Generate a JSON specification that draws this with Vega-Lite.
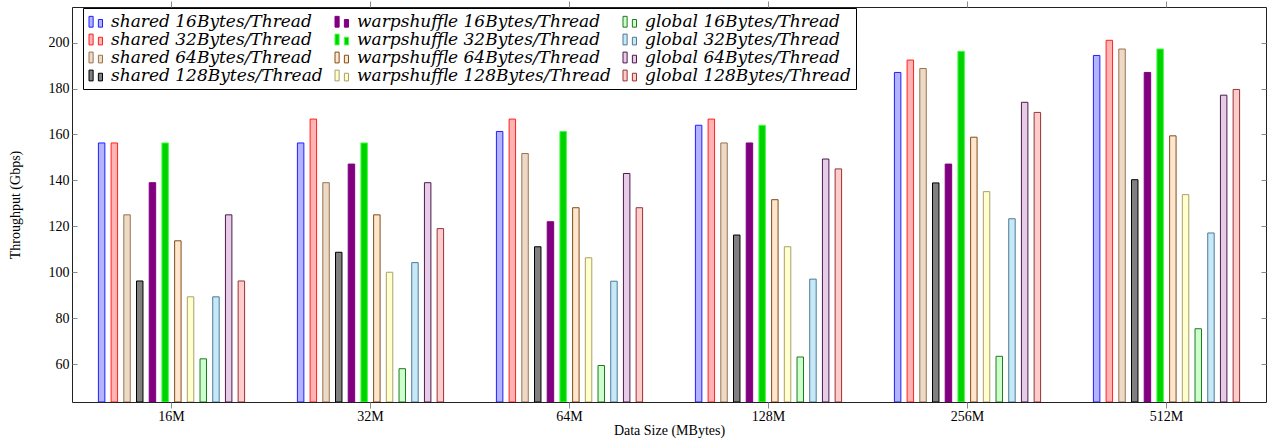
{
  "$schema": "https://vega.github.io/schema/vega-lite/v6.json",
  "width": 1194,
  "height": 395,
  "autosize": {"type": "none"},
  "padding": {"left": 72, "top": 7, "right": 3, "bottom": 41},
  "background": "white",
  "config": {
    "view": {"stroke": "#222222", "strokeWidth": 1},
    "font": "Liberation Serif",
    "axis": {
      "labelFont": "Liberation Serif",
      "titleFont": "Liberation Serif",
      "labelFontSize": 14,
      "titleFontSize": 14,
      "titleFontWeight": "normal",
      "labelColor": "#000000",
      "titleColor": "#000000",
      "domainColor": "#222222",
      "tickColor": "#8a8a8a",
      "grid": false
    }
  },
  "data": {
    "values": [
      {"size": "16M", "series": "shared 16Bytes/Thread", "value": 156.3},
      {"size": "16M", "series": "shared 32Bytes/Thread", "value": 156.3},
      {"size": "16M", "series": "shared 64Bytes/Thread", "value": 125},
      {"size": "16M", "series": "shared 128Bytes/Thread", "value": 96.2},
      {"size": "16M", "series": "warpshuffle 16Bytes/Thread", "value": 139},
      {"size": "16M", "series": "warpshuffle 32Bytes/Thread", "value": 156.3},
      {"size": "16M", "series": "warpshuffle 64Bytes/Thread", "value": 113.7},
      {"size": "16M", "series": "warpshuffle 128Bytes/Thread", "value": 89.3},
      {"size": "16M", "series": "global 16Bytes/Thread", "value": 62.3},
      {"size": "16M", "series": "global 32Bytes/Thread", "value": 89.3},
      {"size": "16M", "series": "global 64Bytes/Thread", "value": 125},
      {"size": "16M", "series": "global 128Bytes/Thread", "value": 96.2},
      {"size": "32M", "series": "shared 16Bytes/Thread", "value": 156.3},
      {"size": "32M", "series": "shared 32Bytes/Thread", "value": 166.7},
      {"size": "32M", "series": "shared 64Bytes/Thread", "value": 139},
      {"size": "32M", "series": "shared 128Bytes/Thread", "value": 108.7},
      {"size": "32M", "series": "warpshuffle 16Bytes/Thread", "value": 147.1},
      {"size": "32M", "series": "warpshuffle 32Bytes/Thread", "value": 156.3},
      {"size": "32M", "series": "warpshuffle 64Bytes/Thread", "value": 125},
      {"size": "32M", "series": "warpshuffle 128Bytes/Thread", "value": 100},
      {"size": "32M", "series": "global 16Bytes/Thread", "value": 58},
      {"size": "32M", "series": "global 32Bytes/Thread", "value": 104.2},
      {"size": "32M", "series": "global 64Bytes/Thread", "value": 139},
      {"size": "32M", "series": "global 128Bytes/Thread", "value": 119},
      {"size": "64M", "series": "shared 16Bytes/Thread", "value": 161.3},
      {"size": "64M", "series": "shared 32Bytes/Thread", "value": 166.7},
      {"size": "64M", "series": "shared 64Bytes/Thread", "value": 151.7},
      {"size": "64M", "series": "shared 128Bytes/Thread", "value": 111.1},
      {"size": "64M", "series": "warpshuffle 16Bytes/Thread", "value": 122},
      {"size": "64M", "series": "warpshuffle 32Bytes/Thread", "value": 161.3},
      {"size": "64M", "series": "warpshuffle 64Bytes/Thread", "value": 128.1},
      {"size": "64M", "series": "warpshuffle 128Bytes/Thread", "value": 106.3},
      {"size": "64M", "series": "global 16Bytes/Thread", "value": 59.4},
      {"size": "64M", "series": "global 32Bytes/Thread", "value": 96.1},
      {"size": "64M", "series": "global 64Bytes/Thread", "value": 143},
      {"size": "64M", "series": "global 128Bytes/Thread", "value": 128.1},
      {"size": "128M", "series": "shared 16Bytes/Thread", "value": 164},
      {"size": "128M", "series": "shared 32Bytes/Thread", "value": 166.7},
      {"size": "128M", "series": "shared 64Bytes/Thread", "value": 156.3},
      {"size": "128M", "series": "shared 128Bytes/Thread", "value": 116.2},
      {"size": "128M", "series": "warpshuffle 16Bytes/Thread", "value": 156.3},
      {"size": "128M", "series": "warpshuffle 32Bytes/Thread", "value": 164},
      {"size": "128M", "series": "warpshuffle 64Bytes/Thread", "value": 131.6},
      {"size": "128M", "series": "warpshuffle 128Bytes/Thread", "value": 111.1},
      {"size": "128M", "series": "global 16Bytes/Thread", "value": 63.1},
      {"size": "128M", "series": "global 32Bytes/Thread", "value": 97},
      {"size": "128M", "series": "global 64Bytes/Thread", "value": 149.3},
      {"size": "128M", "series": "global 128Bytes/Thread", "value": 145},
      {"size": "256M", "series": "shared 16Bytes/Thread", "value": 187},
      {"size": "256M", "series": "shared 32Bytes/Thread", "value": 192.4},
      {"size": "256M", "series": "shared 64Bytes/Thread", "value": 188.7},
      {"size": "256M", "series": "shared 128Bytes/Thread", "value": 138.9},
      {"size": "256M", "series": "warpshuffle 16Bytes/Thread", "value": 147.1},
      {"size": "256M", "series": "warpshuffle 32Bytes/Thread", "value": 196.2},
      {"size": "256M", "series": "warpshuffle 64Bytes/Thread", "value": 158.8},
      {"size": "256M", "series": "warpshuffle 128Bytes/Thread", "value": 135.1},
      {"size": "256M", "series": "global 16Bytes/Thread", "value": 63.4},
      {"size": "256M", "series": "global 32Bytes/Thread", "value": 123.3},
      {"size": "256M", "series": "global 64Bytes/Thread", "value": 174},
      {"size": "256M", "series": "global 128Bytes/Thread", "value": 169.6},
      {"size": "512M", "series": "shared 16Bytes/Thread", "value": 194.4},
      {"size": "512M", "series": "shared 32Bytes/Thread", "value": 201},
      {"size": "512M", "series": "shared 64Bytes/Thread", "value": 197.2},
      {"size": "512M", "series": "shared 128Bytes/Thread", "value": 140.3},
      {"size": "512M", "series": "warpshuffle 16Bytes/Thread", "value": 187},
      {"size": "512M", "series": "warpshuffle 32Bytes/Thread", "value": 197.2},
      {"size": "512M", "series": "warpshuffle 64Bytes/Thread", "value": 159.4},
      {"size": "512M", "series": "warpshuffle 128Bytes/Thread", "value": 133.8},
      {"size": "512M", "series": "global 16Bytes/Thread", "value": 75.4},
      {"size": "512M", "series": "global 32Bytes/Thread", "value": 117.1},
      {"size": "512M", "series": "global 64Bytes/Thread", "value": 177.1},
      {"size": "512M", "series": "global 128Bytes/Thread", "value": 179.6}
    ]
  },
  "layer": [
    {
      "mark": {"type": "bar", "strokeWidth": 1, "clip": true},
      "encoding": {
        "x": {
          "field": "size", "type": "nominal", "sort": null,
          "scale": {"domain": ["16M", "32M", "64M", "128M", "256M", "512M"], "paddingInner": 0.234, "paddingOuter": 0.117},
          "axis": {"title": "Data Size (MBytes)", "labelAngle": 0, "tickSize": 6, "labelPadding": 1, "titlePadding": 0, "domain": false}
        },
        "xOffset": {
          "field": "series", "type": "nominal",
          "scale": {
            "domain": ["shared 16Bytes/Thread", "shared 32Bytes/Thread", "shared 64Bytes/Thread", "shared 128Bytes/Thread", "warpshuffle 16Bytes/Thread", "warpshuffle 32Bytes/Thread", "warpshuffle 64Bytes/Thread", "warpshuffle 128Bytes/Thread", "global 16Bytes/Thread", "global 32Bytes/Thread", "global 64Bytes/Thread", "global 128Bytes/Thread"],
            "paddingInner": 0.49, "paddingOuter": 0.245
          }
        },
        "y": {
          "field": "value", "type": "quantitative",
          "scale": {"domain": [43.5, 215.5], "nice": false, "zero": false},
          "axis": {"title": "Throughput (Gbps)", "values": [60, 80, 100, 120, 140, 160, 180, 200], "tickSize": -5, "labelPadding": 8, "titlePadding": 26, "domain": false}
        },
        "y2": {"datum": 43.5},
        "fill": {
          "field": "series", "type": "nominal",
          "scale": {
            "domain": ["shared 16Bytes/Thread", "shared 32Bytes/Thread", "shared 64Bytes/Thread", "shared 128Bytes/Thread", "warpshuffle 16Bytes/Thread", "warpshuffle 32Bytes/Thread", "warpshuffle 64Bytes/Thread", "warpshuffle 128Bytes/Thread", "global 16Bytes/Thread", "global 32Bytes/Thread", "global 64Bytes/Thread", "global 128Bytes/Thread"],
            "range": ["#b3b3ff", "#ffb3b3", "#ecd9c6", "#808080", "#800080", "#00d200", "#ffe6cc", "#ffffcc", "#ccffcc", "#c6e8f7", "#e6cce6", "#ffcccc"]
          },
          "legend": {
            "title": null,
            "orient": "none",
            "legendX": 11,
            "legendY": 1,
            "direction": "vertical",
            "columns": 3,
            "columnPadding": 10,
            "rowPadding": 0,
            "padding": 5,
            "strokeColor": "#000000",
            "fillColor": "#ffffff",
            "labelFont": "DejaVu Serif",
            "labelFontStyle": "italic",
            "labelFontSize": 17,
            "labelColor": "#000000",
            "labelOffset": 6,
            "labelLimit": 400,
            "symbolType": "M-1,-0.72H-0.45V0.72H-1Z M0.25,-0.3H0.8V0.72H0.25Z",
            "symbolSize": 225,
            "symbolStrokeWidth": 1,
            "symbolOpacity": 1
          }
        },
        "stroke": {
          "field": "series", "type": "nominal",
          "scale": {
            "domain": ["shared 16Bytes/Thread", "shared 32Bytes/Thread", "shared 64Bytes/Thread", "shared 128Bytes/Thread", "warpshuffle 16Bytes/Thread", "warpshuffle 32Bytes/Thread", "warpshuffle 64Bytes/Thread", "warpshuffle 128Bytes/Thread", "global 16Bytes/Thread", "global 32Bytes/Thread", "global 64Bytes/Thread", "global 128Bytes/Thread"],
            "range": ["#2020ff", "#ff2020", "#99734d", "#000000", "#800080", "#40ff40", "#804d1a", "#a89f6e", "#1f7a1f", "#4d7a99", "#4d1a4d", "#993333"]
          },
          "legend": {
            "title": null,
            "orient": "none",
            "legendX": 11,
            "legendY": 1,
            "direction": "vertical",
            "columns": 3,
            "columnPadding": 10,
            "rowPadding": 0,
            "padding": 5,
            "strokeColor": "#000000",
            "fillColor": "#ffffff",
            "labelFont": "DejaVu Serif",
            "labelFontStyle": "italic",
            "labelFontSize": 17,
            "labelColor": "#000000",
            "labelOffset": 6,
            "labelLimit": 400,
            "symbolType": "M-1,-0.72H-0.45V0.72H-1Z M0.25,-0.3H0.8V0.72H0.25Z",
            "symbolSize": 225,
            "symbolStrokeWidth": 1,
            "symbolOpacity": 1
          }
        }
      }
    },
    {
      "mark": {"type": "bar", "opacity": 0},
      "encoding": {
        "x": {
          "field": "size", "type": "nominal", "sort": null,
          "axis": {"orient": "top", "title": null, "labels": false, "tickSize": 6, "domain": false}
        },
        "y": {
          "field": "value", "type": "quantitative",
          "axis": {"orient": "right", "title": null, "labels": false, "values": [60, 80, 100, 120, 140, 160, 180, 200], "tickSize": -5, "domain": false}
        }
      }
    }
  ],
  "resolve": {"axis": {"x": "independent", "y": "independent"}}
}
